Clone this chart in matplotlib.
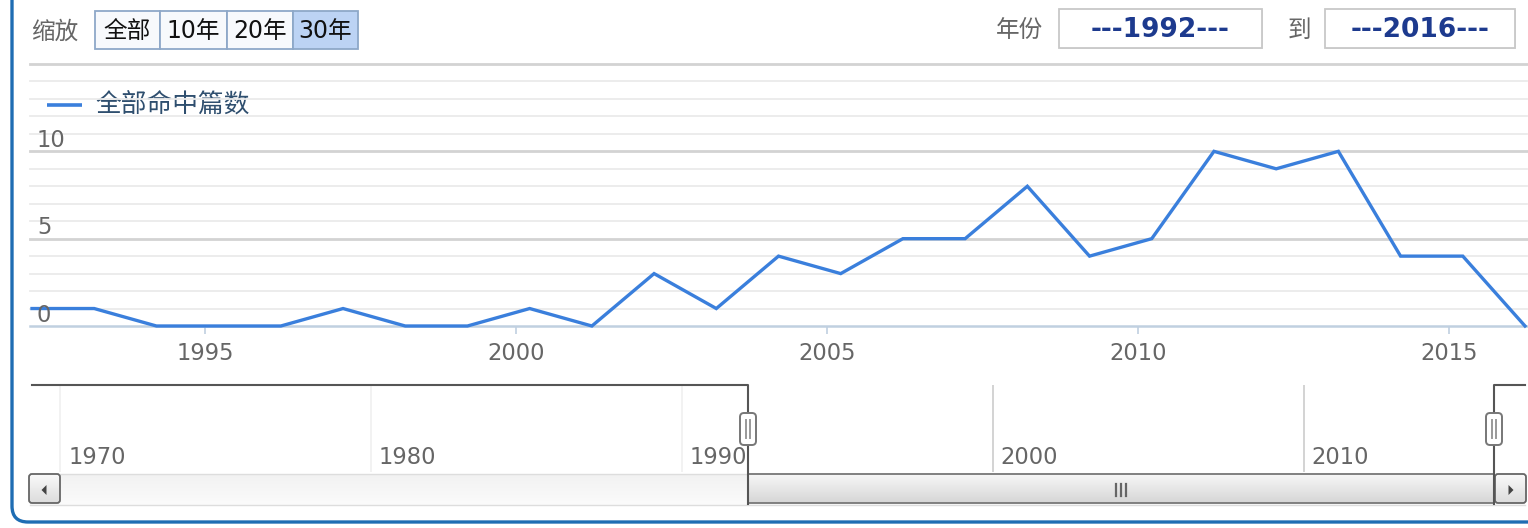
import numpy as np
import matplotlib
matplotlib.use("Agg")
import matplotlib.pyplot as plt
from matplotlib.patches import FancyBboxPatch, Rectangle, Polygon
from matplotlib.transforms import blended_transform_factory

plt.rcParams['font.family'] = ['DejaVu Sans', 'Noto Sans CJK SC']

# ---------------- data ----------------
years = [1992, 1993, 1994, 1995, 1996, 1997, 1998, 1999, 2000, 2001, 2002, 2003,
         2004, 2005, 2006, 2007, 2008, 2009, 2010, 2011, 2012, 2013, 2014, 2015, 2016]
hits = [1, 1, 0, 0, 0, 1, 0, 0, 1, 0, 3, 1, 4, 3, 5, 5, 8, 4, 5, 10, 9, 10, 4, 4, 0]
series_name = "全部命中篇数"
x_tick_years = [1995, 2000, 2005, 2010, 2015]
y_major = [0, 5, 10, 15]
nav_tick_years = [1970, 1980, 1990, 2000, 2010]
zoom_buttons = ["全部", "10年", "20年", "30年"]
selected_button = "30年"
from_label, to_label = "年份", "到"
from_text = "---%d---" % years[0]
to_text = "---%d---" % years[-1]
zoom_label = "缩放"

# ---------------- layout ----------------
W, H = 1528, 528
fig = plt.figure(figsize=(W / 100, H / 100), dpi=100)
fig.patch.set_facecolor('white')

LINE_C = '#3a7fdc'
LABEL_C = '#666666'
AXIS_C = '#c0d0e0'
NUM_FS = 16.3

ov = fig.add_axes([0, 0, 1, 1], zorder=0)
ov.set_axis_off()
ov.set_autoscale_on(False)
ov.set_xlim(0, W)
ov.set_ylim(H, 0)

top = fig.add_axes([0, 0, 1, 1], zorder=10)
top.set_axis_off()
top.set_autoscale_on(False)
top.set_xlim(0, W)
top.set_ylim(H, 0)
top.patch.set_alpha(0)


def grad(x0, x1, y0, y1, c_top, c_bot, z=1):
    a = np.array(matplotlib.colors.to_rgb(c_top))
    b = np.array(matplotlib.colors.to_rgb(c_bot))
    t = np.linspace(0, 1, 32)[:, None]
    img = (a * (1 - t) + b * t)[:, None, :]
    ov.imshow(img, extent=(x0, x1, y1, y0), aspect='auto', origin='upper',
              zorder=z, interpolation='bilinear')


# ---------------- main plot ----------------
PL, PR, PT, PB = 32, 1527, 64, 326
ax = fig.add_axes([PL / W, (H - PB) / H, (PR - PL) / W, (PB - PT) / H], zorder=2)
ax.set_facecolor('none')
ppy_main = (1525 - PL) / (years[-1] - years[0])
ax.set_xlim(years[0], years[0] + (PR - PL) / ppy_main)
ax.set_ylim(0, 15)
for s in ax.spines.values():
    s.set_visible(False)

ext = 2 / (PR - PL)
for v in range(1, 16):
    if v in y_major:
        ax.axhline(v, xmin=-ext, xmax=1, color='#d3d3d3', lw=2.0, zorder=1, clip_on=False)
    else:
        ax.axhline(v, xmin=-ext, xmax=1, color='#ebebeb', lw=1.3, zorder=1, clip_on=False)
ax.axhline(0, xmin=-ext, xmax=1, color=AXIS_C, lw=1.8, zorder=1.5, clip_on=False)

ax.plot(years, hits, color=LINE_C, lw=2.4, solid_joinstyle='miter', zorder=3, clip_on=False)

tick_shift = -0.22
ax.set_xticks([y + tick_shift for y in x_tick_years])
ax.set_xticklabels([str(y) for y in x_tick_years])
ax.tick_params(axis='x', length=6, width=1.2, color=AXIS_C, labelcolor=LABEL_C,
               labelsize=NUM_FS, pad=5.5)
ax.set_yticks([])
for v in y_major[:-1]:
    ax.annotate(str(v), xy=(0, v), xycoords=('axes fraction', 'data'),
                xytext=(3.5, 3), textcoords='offset points', ha='left', va='baseline',
                fontsize=NUM_FS, color=LABEL_C, zorder=4)

# legend
ov.plot([47, 82], [105, 105], color=LINE_C, lw=2.6, solid_capstyle='butt', zorder=3)
ov.text(95, 106, series_name, fontsize=18.5, color='#2f4f6f', va='center', ha='left', zorder=3)

# ---------------- top controls ----------------
ov.text(31, 32, zoom_label, fontsize=17, color=LABEL_C, va='center', ha='left')
bx = [95, 160, 227, 293, 358]
for i, lab in enumerate(zoom_buttons):
    x0, x1 = bx[i], bx[i + 1]
    fc = '#bcd3f4' if lab == selected_button else '#f7f9fc'
    ov.add_patch(Rectangle((x0, 11), x1 - x0, 38, facecolor=fc, edgecolor='#8ea8c8',
                           lw=1.3, zorder=2))
    ov.text((x0 + x1) / 2, 31, lab, fontsize=17, color='#111111', ha='center', va='center', zorder=3)

ov.text(1043, 30, from_label, fontsize=17, color=LABEL_C, ha='right', va='center')
ov.text(1311, 30, to_label, fontsize=17, color=LABEL_C, ha='right', va='center')
for (x0, x1, txt) in [(1059, 1262, from_text), (1325, 1515, to_text)]:
    ov.add_patch(Rectangle((x0 + 1, 10), x1 - x0, 39, facecolor='#e6e6e6', edgecolor='none', zorder=1))
    ov.add_patch(Rectangle((x0, 9), x1 - x0, 39, facecolor='white', edgecolor='#c8c8c8', lw=1.3, zorder=2))
    ov.text((x0 + x1) / 2, 30, txt, fontsize=19, color='#1d3a8e', fontweight='bold',
            ha='center', va='center', zorder=3)

# ---------------- navigator ----------------
NL, NR, NT, NB = 32, 1525, 385, 472
nav = fig.add_axes([NL / W, (H - NB) / H, (NR - NL) / W, (NB - NT) / H], zorder=2)
nav.set_facecolor('none')
for s in nav.spines.values():
    s.set_visible(False)
nav.set_xticks([])
nav.set_yticks([])
ppy_nav = (1494 - 748) / (years[-1] - years[0])
nav_left = years[0] - (748 - NL) / ppy_nav
nav_right = nav_left + (NR - NL) / ppy_nav
nav.set_xlim(nav_left, nav_right)
nav.set_ylim(0, 1)
for d in nav_tick_years:
    nav.axvline(d - 0.12, color='#cccccc', lw=1.2, zorder=1)
    nav.annotate(str(d), xy=(d - 0.12, 0), xycoords=('data', 'axes fraction'),
                 xytext=(5.5, 5.5), textcoords='offset points', ha='left', va='baseline',
                 fontsize=NUM_FS, color=LABEL_C, zorder=5)
nav.axvspan(nav_left, years[0], color='white', alpha=0.72, zorder=3, lw=0)
nav.axvspan(years[-1], nav_right, color='white', alpha=0.72, zorder=3, lw=0)

bt = blended_transform_factory(nav.transData, nav.transAxes)
low = -(504 - NB) / (NB - NT)
nav.plot([nav_left, years[0], years[0]], [1, 1, low], color='#555555', lw=1.5,
         transform=bt, clip_on=False, zorder=6)
nav.plot([nav_right, years[-1], years[-1]], [1, 1, low], color='#555555', lw=1.5,
         transform=bt, clip_on=False, zorder=6)


def nav_px(yv):
    return NL + (yv - nav_left) * ppy_nav


# scrollbar
SY0, SY1 = 474, 505
grad(30, 1525, SY0, SY1, '#f2f2f2', '#fbfbfb', z=1)
ov.plot([30, 1525], [SY0, SY0], color='#dddddd', lw=1, zorder=2)
ov.plot([30, 1525], [SY1, SY1], color='#dddddd', lw=1, zorder=2)
hx0, hx1 = nav_px(years[0]), nav_px(years[-1])
grad(hx0, hx1, SY0, SY1 - 2, '#f7f7f7', '#d6d6d6', z=3)
ov.add_patch(Rectangle((hx0, SY0), hx1 - hx0, SY1 - 2 - SY0, facecolor='none',
                       edgecolor='#777777', lw=1.3, zorder=4))
cx = (hx0 + hx1) / 2
for dx in (-5, 0, 5):
    ov.plot([cx + dx, cx + dx], [484, 496], color='#666666', lw=1.6, zorder=5)

# scrollbar buttons
for (x0, tri) in [(29, 'l'), (1495, 'r')]:
    grad(x0, x0 + 31, SY0, SY1 - 2, '#fafafa', '#dcdcdc', z=3)
    ov.add_patch(FancyBboxPatch((x0, SY0), 31, SY1 - 2 - SY0,
                                boxstyle='round,pad=0,rounding_size=3',
                                facecolor='none', edgecolor='#666666', lw=1.3, zorder=4))
    c = x0 + 15.5
    if tri == 'l':
        pts = [(c + 2, 485), (c + 2, 495), (c - 3, 490)]
    else:
        pts = [(c - 2, 485), (c - 2, 495), (c + 3, 490)]
    ov.add_patch(Polygon(pts, closed=True, facecolor='#444444', edgecolor='none', zorder=5))

# navigator handles
for hx in (hx0, hx1):
    top.add_patch(FancyBboxPatch((hx - 8, 413), 16, 32, boxstyle='round,pad=0,rounding_size=4',
                                 facecolor='white', edgecolor='#777777', lw=1.4, zorder=7))
    for dx in (-2, 2):
        top.plot([hx + dx, hx + dx], [420, 438], color='#999999', lw=1.4, zorder=8)

# outer blue frame
top.add_patch(FancyBboxPatch((12, -40), 1600, 562, boxstyle='round,pad=0,rounding_size=16',
                             facecolor='none', edgecolor='#1f6db3', lw=2.4, zorder=9, clip_on=False))

fig.savefig('out.png', dpi=100, facecolor='white')
